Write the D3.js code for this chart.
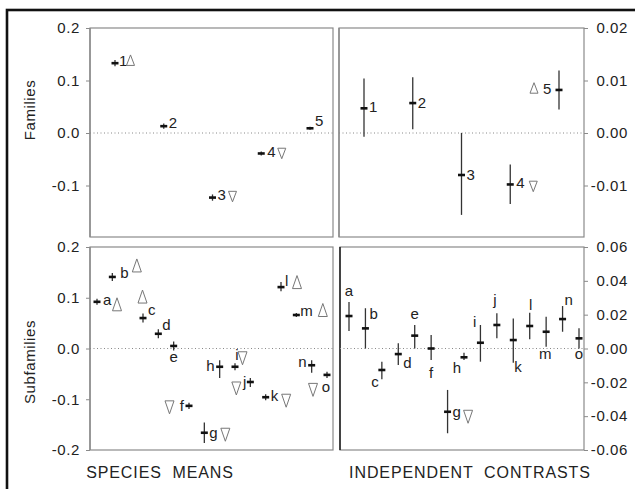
<!DOCTYPE html>
<html><head><meta charset="utf-8">
<script src="https://cdn.jsdelivr.net/npm/d3@7"></script>
<style>
html,body{margin:0;padding:0;background:#fff;}
text{font-family:"Liberation Sans",Arial,sans-serif;fill:#222;}
</style></head>
<body><svg id="chart" width="635" height="489"></svg>
<script>
// ---------- DATA ----------
const famLabels = ["1","2","3","4","5"];
const famMeans   = [0.133, 0.013, -0.123, -0.039, 0.009];
const famMeansLo = [0.127, 0.008, -0.129, -0.043, 0.006];
const famMeansHi = [0.139, 0.018, -0.117, -0.035, 0.012];
const famMeansTrend = ["up", "", "down", "down", ""];
const famContr   = [0.0047, 0.0057, -0.0080, -0.0098, 0.0082];
const famContrLo = [-0.0007, 0.0007, -0.0156, -0.0135, 0.0045];
const famContrHi = [0.0104, 0.0106, 0.0000, -0.0060, 0.0119];
const famContrTrend = ["", "", "", "down", "up"];

const subLabels = ["a","b","c","d","e","f","g","h","i","j","k","l","m","n","o"];
const subMeanSlots = ["a","b","_gap","c","d","e","f","g","h","i","j","k","l","m","n","o"];
const subMeans   = [0.092, 0.141, 0.060, 0.029, 0.005, -0.113, -0.166, -0.036, -0.036, -0.066, -0.096, 0.121, 0.066, -0.033, -0.052];
const subMeansLo = [0.086, 0.133, 0.051, 0.020, -0.004, -0.119, -0.186, -0.058, -0.043, -0.076, -0.102, 0.113, 0.062, -0.048, -0.058];
const subMeansHi = [0.098, 0.149, 0.069, 0.038, 0.014, -0.107, -0.146, -0.023, -0.029, -0.058, -0.090, 0.131, 0.070, -0.023, -0.046];
const subMeansTrend = ["up","up","up","","","down","down","","down","down","down","up","up","","down"];
const subContr   = [0.0192, 0.0119, -0.0127, -0.0033, 0.0076, 0.0000, -0.0374, -0.0052, 0.0034, 0.0139, 0.0050, 0.0133, 0.0099, 0.0174, 0.0060];
const subContrLo = [0.0103, 0.0000, -0.0182, -0.0098, 0.0000, -0.0068, -0.0501, -0.0068, -0.0078, 0.0060, -0.0084, 0.0054, 0.0011, 0.0099, 0.0000];
const subContrHi = [0.0275, 0.0238, -0.0078, 0.0031, 0.0139, 0.0080, -0.0245, -0.0025, 0.0139, 0.0208, 0.0178, 0.0212, 0.0188, 0.0251, 0.0119];
const subContrTrend = ["","","","","","","down","","","","","","","",""];

const ticksMeansTop = [0.2, 0.1, 0.0, -0.1];
const ticksContrTop = [0.02, 0.01, 0.00, -0.01];
const ticksMeansBot = [0.2, 0.1, 0.0, -0.1, -0.2];
const ticksContrBot = [0.06, 0.04, 0.02, 0.00, -0.02, -0.04, -0.06];

const rowTitles = ["Families", "Subfamilies"];
const colTitles = ["SPECIES  MEANS", "INDEPENDENT  CONTRASTS"];

// ---------- LAYOUT (label placement, not data) ----------
// [text dx, text dy, anchor, triangle dx, triangle dy]
const layTL = [[4,3,"start",15.5,-3],[5,2,"start"],[5,2,"start",20,-1],[6,4,"start",20.5,0],[5,-2,"start"]];
const layTR = [[5,4,"start"],[5,5,"start"],[5,5,"start"],[6,4,"start",23,2],[-16,4,"start",-25,-2]];
const layBL = [[6,3,"start",20,2.5],[8,1,"start",24.5,-11.5],[5,-3,"start",-0.5,-21.5],[4,-4,"start"],[0,16,"middle"],
  [-5,5,"end",-19.5,1.5],[5,5,"start",21,2],[-5,4,"end"],[2,-7,"middle",7.5,-8.5],[-4,5,"end",-14,6.5],
  [5,4,"start",20.5,3.5],[4,-1,"start",16,-5],[4,1,"start",26.5,-5],[-5,2,"end"],[-1,17,"middle",-14,15]];
const layBR = [[0,-20,"middle"],[4,-9,"start"],[-3,17,"end"],[5,14,"start"],[0,-17,"middle"],[0,29,"middle"],
  [5,5,"start",20.5,5],[-3,16,"end"],[-4,-16,"end"],[-2,-20,"middle"],[1,32,"start"],[1,-16,"middle"],
  [-1,27,"middle"],[2,-14,"start"],[0,21,"middle"]];

const svg = d3.select("#chart");
svg.append("rect").attr("width",635).attr("height",489).attr("fill","#fff");

// outer frame (cropped at right/bottom)
svg.append("rect").attr("x",7).attr("y",10).attr("width",660).attr("height",520)
  .attr("fill","none").attr("stroke","#111").attr("stroke-width",2.6);

const hy = f => (v => f(v).replace("\u2212","-"));

const panels = [
  {x0:90, x1:333, y0:28, y1:237, yDom:[-0.2,0.2], yR:[238,28], slots:famLabels, xr:[115,310], side:"left", ticks:ticksMeansTop, fmt:hy(d3.format(".1f")),
   labels:famLabels, mean:famMeans, lo:famMeansLo, hi:famMeansHi, trend:famMeansTrend, lay:layTL, tri:[8,10.5], leftEdge:"#8a8a8a"},
  {x0:339, x1:584, y0:28, y1:237, yDom:[-0.02,0.02], yR:[238,28], slots:famLabels, xr:[364,559], side:"right", ticks:ticksContrTop, fmt:hy(d3.format(".2f")),
   labels:famLabels, mean:famContr, lo:famContrLo, hi:famContrHi, trend:famContrTrend, lay:layTR, tri:[8,10.5], leftEdge:"#8a8a8a"},
  {x0:90, x1:333, y0:247, y1:450, yDom:[-0.2,0.2], yR:[450,247], slots:subMeanSlots, xr:[97,327], side:"left", ticks:ticksMeansBot, fmt:hy(d3.format(".1f")),
   labels:subLabels, mean:subMeans, lo:subMeansLo, hi:subMeansHi, trend:subMeansTrend, lay:layBL, tri:[9,13], leftEdge:"#8a8a8a"},
  {x0:340, x1:584, y0:247, y1:450, yDom:[-0.06,0.06], yR:[450,247], slots:subLabels, xr:[349,579], side:"right", ticks:ticksContrBot, fmt:hy(d3.format(".2f")),
   labels:subLabels, mean:subContr, lo:subContrLo, hi:subContrHi, trend:subContrTrend, lay:layBR, tri:[9,13], leftEdge:"#111"}
];

function triPath(cx, cy, w, h, dir){
  if(dir==="up") return `M${cx},${cy-h/2}L${cx+w/2},${cy+h/2}L${cx-w/2},${cy+h/2}Z`;
  return `M${cx-w/2},${cy-h/2}L${cx+w/2},${cy-h/2}L${cx},${cy+h/2}Z`;
}

panels.forEach(p => {
  const y = d3.scaleLinear().domain(p.yDom).range(p.yR);
  const x = d3.scalePoint().domain(p.slots).range(p.xr);
  const g = svg.append("g");

  g.append("rect").attr("x",p.x0).attr("y",p.y0).attr("width",p.x1-p.x0).attr("height",p.y1-p.y0)
    .attr("fill","none").attr("stroke","#8a8a8a").attr("stroke-width",1.2);
  g.append("line").attr("x1",p.x0).attr("x2",p.x0).attr("y1",p.y0).attr("y2",p.y1)
    .attr("stroke",p.leftEdge).attr("stroke-width",1.4);

  g.append("line").attr("x1",p.x0).attr("x2",p.x1).attr("y1",y(0)).attr("y2",y(0))
    .attr("stroke","#888").attr("stroke-width",1).attr("stroke-dasharray","1,2.5");

  if(p.side==="left"){
    const ax = d3.axisLeft(y).tickValues(p.ticks).tickFormat(p.fmt).tickSize(4).tickPadding(6);
    const a = g.append("g").attr("transform",`translate(${p.x0},0)`).call(ax);
    a.select(".domain").remove();
    a.selectAll("line").attr("stroke","#8a8a8a");
    a.selectAll("text").attr("font-size",15).attr("letter-spacing",0.6).style("fill","#222")
      .attr("font-family","Liberation Sans, Arial, sans-serif").attr("x",-10);
  } else {
    const ax = d3.axisRight(y).tickValues(p.ticks).tickFormat(p.fmt).tickSize(4).tickPadding(6);
    const a = g.append("g").attr("transform",`translate(${p.x1},0)`).call(ax);
    a.select(".domain").remove();
    a.selectAll("line").attr("stroke","#8a8a8a");
    a.selectAll("text").attr("font-size",15).attr("letter-spacing",0.6).style("fill","#222")
      .attr("font-family","Liberation Sans, Arial, sans-serif")
      .attr("text-anchor","end").attr("x",628-p.x1);
  }

  p.labels.forEach((lab,i) => {
    const cx = x(lab), cy = y(p.mean[i]);
    g.append("line").attr("x1",cx).attr("x2",cx).attr("y1",y(p.hi[i])).attr("y2",y(p.lo[i]))
      .attr("stroke","#333").attr("stroke-width",1.3);
    g.append("line").attr("x1",cx-3.5).attr("x2",cx+3.5).attr("y1",cy).attr("y2",cy)
      .attr("stroke","#111").attr("stroke-width",2.6);
    const L = p.lay[i];
    g.append("text").attr("x",cx+L[0]).attr("y",cy+L[1]).attr("text-anchor",L[2])
      .attr("font-size",15).style("fill","#222").text(lab);
    if(p.trend[i]){
      g.append("path").attr("d",triPath(cx+L[3], cy+L[4], p.tri[0], p.tri[1], p.trend[i]))
        .attr("fill","none").attr("stroke","#777").attr("stroke-width",1);
    }
  });
});

[[30,110],[30,362]].forEach((pos,i)=>{
  svg.append("text").attr("transform",`translate(${pos[0]+5},${pos[1]}) rotate(-90)`)
    .attr("text-anchor","middle").attr("font-size",15).attr("letter-spacing",0.6).text(rowTitles[i]);
});
[[160,478],[470,478]].forEach((pos,i)=>{
  svg.append("text").attr("x",pos[0]).attr("y",pos[1]).attr("text-anchor","middle")
    .attr("font-size",16).attr("letter-spacing",0.9).style("white-space","pre").attr("xml:space","preserve").text(colTitles[i]);
});
</script></body></html>
